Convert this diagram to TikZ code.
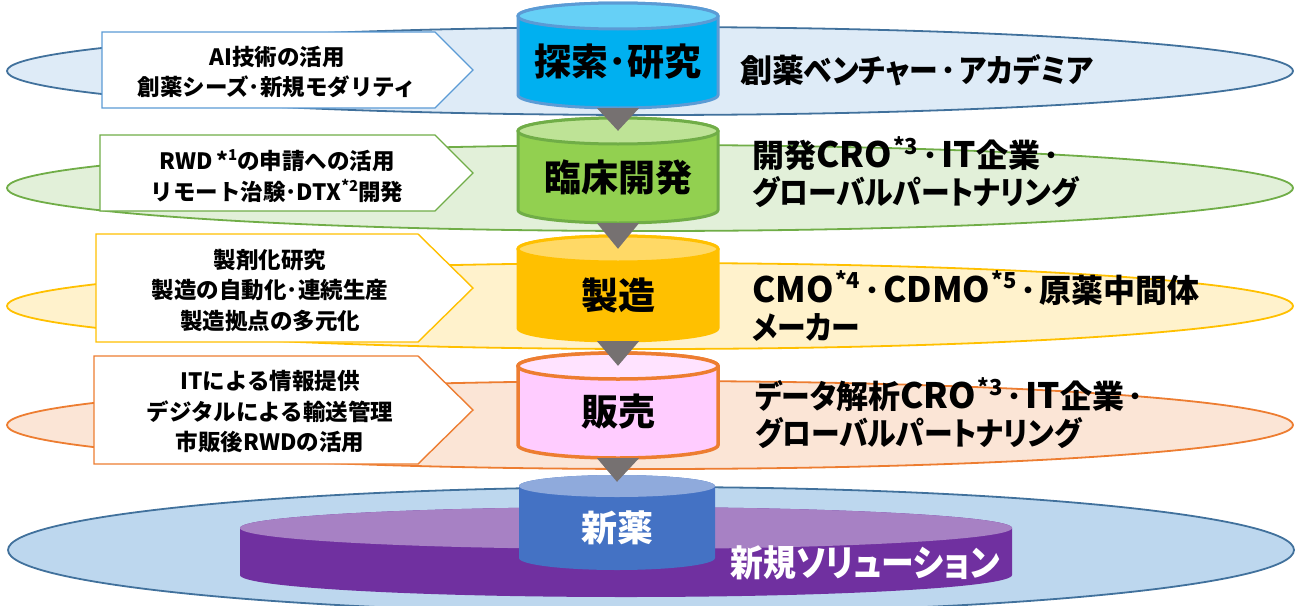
\documentclass[tikz,border=0pt]{standalone}
\usepackage{fontspec}
\setmainfont{Noto Sans CJK JP}
\newfontfamily\pfont{Noto Sans CJK JP}[RawFeature=+palt]
\newfontfamily\kfont{Noto Sans CJK JP}[RawFeature=+palt,FakeStretch=0.9]
\usetikzlibrary{calc}
\definecolor{eAfill}{HTML}{DEEBF7}
\definecolor{eAline}{HTML}{41719C}
\definecolor{eBfill}{HTML}{E2F0D9}
\definecolor{eBline}{HTML}{70AD47}
\definecolor{eCfill}{HTML}{FFF2CC}
\definecolor{eCline}{HTML}{FFC000}
\definecolor{eDfill}{HTML}{FBE5D6}
\definecolor{eDline}{HTML}{ED7D31}
\definecolor{eEfill}{HTML}{BDD7EE}
\definecolor{boxA}{HTML}{5B9BD5}
\definecolor{cAbody}{HTML}{00B0F0}
\definecolor{cAtop}{HTML}{66D0F6}
\definecolor{cBbody}{HTML}{92D050}
\definecolor{cBtop}{HTML}{BEE396}
\definecolor{cCbody}{HTML}{FFC000}
\definecolor{cCtop}{HTML}{FFD966}
\definecolor{cDbody}{HTML}{FFCCFF}
\definecolor{cDtop}{HTML}{FFE3FF}
\definecolor{nbody}{HTML}{4472C4}
\definecolor{ntop}{HTML}{8FAADC}
\definecolor{pbody}{HTML}{7030A0}
\definecolor{ptop}{HTML}{A781C4}
\definecolor{arrowc}{HTML}{767171}
\newcommand\cylinderdraw[6]{%
  \path[#4 body] (#2-#6,#3-46) -- (#2-#6,#3+33)
    arc[start angle=180,end angle=360,x radius=#6pt,y radius=13pt]
    -- (#2+#6,#3-46)
    arc[start angle=0,end angle=180,x radius=#6pt,y radius=13pt] -- cycle;
  \path[#4 body,fill=#4top] (#2,#3-46) ellipse[x radius=#6pt,y radius=13pt];
  \node[cyltext] (#1) at (#2,#3) {#5};
}
\newcommand\flowtri[2]{%
  \fill[arrowc] ($(#1.south)+(-21,0)$) -- ($(#1.south)+(21,0)$) -- (#2.north) -- cycle;}
% helpers for the right-hand texts
\newcommand\lt[1]{{\rmfamily\fontsize{35}{37}\selectfont #1}}
\newcommand\kn[1]{{\kfont #1}}
\newcommand\nt[1]{\kern1.5pt\raisebox{0.42em}{\rmfamily\fontsize{22}{22}\selectfont #1}\kern1pt}
\newcommand\bn[1]{\raisebox{0.4em}{\fontsize{15}{15}\selectfont #1}}
\newcommand\dt{\makebox[22pt]{\rmfamily ･}}
\begin{document}
\begin{tikzpicture}[x=1pt,y=-1pt,
  band/.style={line width=1.8pt},
  pent/.style={fill=white,line width=1.4pt},
  boxtext/.style={font=\bfseries\fontsize{22.5}{30.5}\selectfont,align=center,inner sep=0pt},
  righttext/.style={font=\pfont\bfseries\fontsize{32}{37}\selectfont,align=left,anchor=west,inner sep=0pt},
  cyltext/.style={font=\bfseries\fontsize{37}{40}\selectfont,minimum width=200pt,minimum height=92pt,inner sep=0pt},
  cA body/.style={fill=cAbody,draw=boxA,line width=3pt},
  cB body/.style={fill=cBbody,draw=eBline,line width=3pt},
  cC body/.style={fill=cCbody,draw=eCline,line width=3pt},
  cD body/.style={fill=cDbody,draw=eDline,line width=3.5pt},
]
\useasboundingbox (0,0) rectangle (1300,605);
\clip (0,0) rectangle (1300,605);
% bands
\path[band,fill=eAfill,draw=eAline] (650,71) ellipse[x radius=643pt,y radius=44pt];
\path[band,fill=eBfill,draw=eBline] (650,188) ellipse[x radius=643pt,y radius=43pt];
\path[band,fill=eCfill,draw=eCline] (650,306) ellipse[x radius=643pt,y radius=43pt];
\path[band,fill=eDfill,draw=eDline] (650,425) ellipse[x radius=643pt,y radius=44pt];
% left arrow boxes
\draw[pent,draw=boxA] (102,32) -- (435,32) -- (473,70) -- (435,108) -- (102,108) -- cycle;
\node[boxtext] (bA) at (277,72) {AI技術の活用\\創薬シーズ･新規モダリティ};
\draw[pent,draw=eBline] (100,135) -- (435,135) -- (473,173) -- (435,211) -- (100,211) -- cycle;
\node[boxtext] (bB) at (277,176) {RWD\,*\bn{1}の申請への活用\\リモート治験･DTX\bn{*2}開発};
\draw[pent,draw=eCline] (96,234) -- (418,234) -- (473,288) -- (418,342) -- (96,342) -- cycle;
\node[boxtext] (bC) at (270,290) {製剤化研究\\製造の自動化･連続生産\\製造拠点の多元化};
\draw[pent,draw=eDline] (94,356) -- (418,356) -- (473,410) -- (418,464) -- (94,464) -- cycle;
\node[boxtext] (bD) at (270,412) {ITによる情報提供\\デジタルによる輸送管理\\市販後RWDの活用};
% cylinders
\cylinderdraw{cA}{618}{62}{cA}{探索･研究}{100}
\cylinderdraw{cB}{618}{177}{cB}{臨床開発}{100}
\cylinderdraw{cC}{618}{295}{cC}{製造}{100}
\cylinderdraw{cD}{618}{412}{cD}{販売}{100}
% right texts
\node[righttext] (rA) at (740,70) {創薬\kn{ベンチャー}\dt\kn{アカデミア}};
\node[righttext] (rB) at (752,172) {開発\lt{CRO}\nt{*3}\dt\lt{IT}企業\dt\\\kn{グローバルパートナリング}};
\node[righttext] (rC) at (752,306) {\lt{CMO}\nt{*4}\dt\lt{CDMO}\nt{*5}\dt 原薬中間体\\\kn{メーカー}};
\node[righttext] (rD) at (755,413) {\kn{データ}解析\lt{CRO}\nt{*3}\dt\lt{IT}企業\dt\\\kn{グローバルパートナリング}};
% bottom
\path[band,fill=eEfill,draw=eAline] (651,550) ellipse[x radius=643pt,y radius=63pt];
\path[fill=pbody] (240,528) -- (240,575) arc[start angle=180,end angle=360,x radius=386pt,y radius=22pt] -- (1012,528) arc[start angle=0,end angle=180,x radius=386pt,y radius=21pt] -- cycle;
\path[fill=ptop] (626,528) ellipse[x radius=386pt,y radius=21pt];
\path[fill=nbody] (519,486) -- (519,558) arc[start angle=180,end angle=360,x radius=98pt,y radius=12pt] -- (715,486) arc[start angle=0,end angle=180,x radius=98pt,y radius=11pt] -- cycle;
\path[fill=ntop] (617,486) ellipse[x radius=98pt,y radius=11pt];
\node[cyltext,text=white,font=\bfseries\fontsize{36}{40}\selectfont] (cE) at (617,528) {新薬};
\node[font=\kfont\bfseries\fontsize{36.5}{40}\selectfont,text=white,anchor=west,inner sep=0pt] (sol) at (730,563) {新規ソリューション};
% arrows
\flowtri{cA}{cB}
\flowtri{cB}{cC}
\flowtri{cC}{cD}
\flowtri{cD}{cE}
\end{tikzpicture}
\end{document}
